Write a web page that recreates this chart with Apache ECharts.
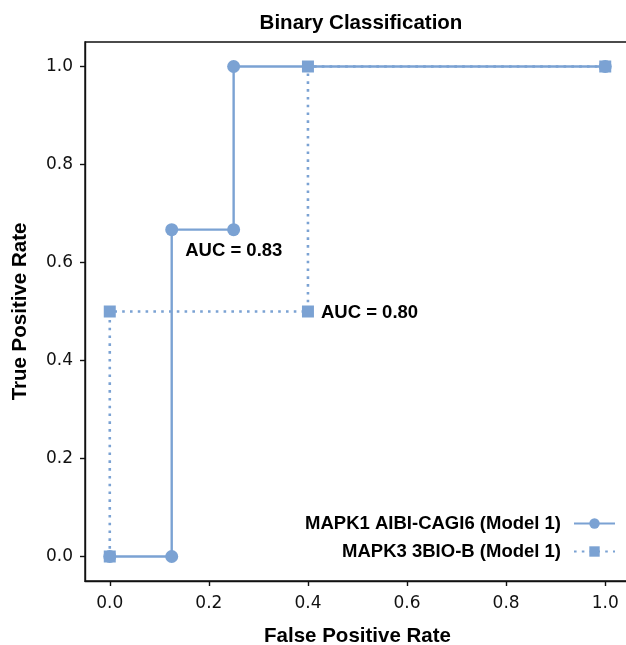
<!DOCTYPE html>
<html>
<head>
<meta charset="utf-8">
<script src="https://cdn.jsdelivr.net/npm/echarts@6/dist/echarts.min.js"></script>
<style>html,body{margin:0;padding:0;background:#fff}#c{width:626px;height:645px}</style>
</head>
<body>
<div id="c"></div>
<script>
const titleText = 'Binary Classification';
const xTicks = [0.0, 0.2, 0.4, 0.6, 0.8, 1.0];
const yTicks = [0.0, 0.2, 0.4, 0.6, 0.8, 1.0];
const model1Name = 'MAPK1 AIBI-CAGI6 (Model 1)';
const model1FPR = [0, 0.125, 0.125, 0.25, 0.25, 1.0];
const model1TPR = [0, 0, 0.667, 0.667, 1.0, 1.0];
const model1AUC = 'AUC = 0.83';
const model1LabelIndex = 2;
const model2Name = 'MAPK3 3BIO-B (Model 1)';
const model2FPR = [0, 0, 0.4, 0.4, 1.0];
const model2TPR = [0, 0.5, 0.5, 1.0, 1.0];
const model2AUC = 'AUC = 0.80';
const model2LabelIndex = 2;

const color = '#7ba2d3';
const boldFont = '"Liberation Sans", Arial, Helvetica, sans-serif';
const tickFont = '"DejaVu Sans", sans-serif';

function build(fpr, tpr, idx, text, offset) {
  return fpr.map((x, i) => {
    const item = { value: [x, tpr[i]] };
    if (i === idx) {
      item.label = {
        show: true, position: 'right', distance: 5, offset: offset,
        formatter: text, color: '#000', fontWeight: 'bold',
        fontSize: 18.5, fontFamily: boldFont
      };
    }
    return item;
  });
}

const chart = echarts.init(document.getElementById('c'), null, { renderer: 'canvas' });
chart.setOption({
  animation: false,
  backgroundColor: '#fff',
  title: {
    text: titleText, left: 356, top: 8, textAlign: 'center',
    textStyle: { fontSize: 20.5, fontWeight: 'bold', fontFamily: boldFont, color: '#000' }
  },
  grid: {
    left: 85, top: 42, right: -4, bottom: 64,
    containLabel: false, outerBoundsMode: 'none',
    show: true, borderColor: '#111', borderWidth: 1.4, backgroundColor: 'transparent'
  },
  legend: {
    right: 10, top: 514, padding: 0, orient: 'vertical', align: 'right',
    itemWidth: 41, itemHeight: 13, itemGap: 9,
    textStyle: { fontSize: 18.5, fontWeight: 'bold', fontFamily: boldFont, color: '#000', padding: [0, 8, 0, 0] },
    data: [model1Name, model2Name]
  },
  xAxis: {
    type: 'value', min: -0.05, max: 1.05,
    name: 'False Positive Rate', nameLocation: 'middle', nameGap: 45,
    nameTextStyle: { fontSize: 20.5, fontWeight: 'bold', fontFamily: boldFont, color: '#000' },
    axisLine: { show: true, onZero: false, lineStyle: { color: '#111', width: 1.4 } },
    axisTick: { show: true, inside: false, length: 5, customValues: xTicks, lineStyle: { color: '#111', width: 1.4 } },
    axisLabel: { customValues: xTicks, margin: 14, fontSize: 17, fontFamily: tickFont, color: '#111',
      formatter: v => v.toFixed(1) },
    splitLine: { show: false }
  },
  yAxis: {
    type: 'value', min: -0.05, max: 1.05,
    name: 'True Positive Rate', nameLocation: 'middle', nameGap: 54,
    nameTextStyle: { fontSize: 20.5, fontWeight: 'bold', fontFamily: boldFont, color: '#000' },
    axisLine: { show: true, onZero: false, lineStyle: { color: '#111', width: 1.4 } },
    axisTick: { show: true, inside: false, length: 5, customValues: yTicks, lineStyle: { color: '#111', width: 1.4 } },
    axisLabel: { customValues: yTicks, margin: 12, fontSize: 17, fontFamily: tickFont, color: '#111',
      formatter: v => v.toFixed(1) },
    splitLine: { show: false }
  },
  series: [
    {
      name: model1Name, type: 'line', data: build(model1FPR, model1TPR, model1LabelIndex, model1AUC, [2, 21]),
      symbol: 'circle', symbolSize: 13, showAllSymbol: true,
      lineStyle: { color: color, width: 2.4, type: 'solid' },
      itemStyle: { color: color }, z: 2
    },
    {
      name: model2Name, type: 'line', data: build(model2FPR, model2TPR, model2LabelIndex, model2AUC, [2, 1]),
      symbol: 'rect', symbolSize: 12, showAllSymbol: true,
      lineStyle: { color: color, width: 2.6, type: [2.6, 5.2], cap: 'butt' },
      itemStyle: { color: color }, z: 3
    }
  ]
});
</script>
</body>
</html>
